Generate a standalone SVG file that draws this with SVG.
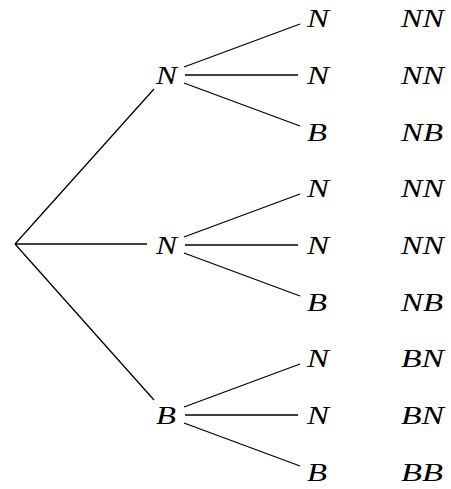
<svg xmlns="http://www.w3.org/2000/svg" width="451" height="489" viewBox="0 0 451 489">
<style>
.t{font-family:"Liberation Serif","Times New Roman",serif;font-style:italic;font-size:26px;fill:#000}
.e{stroke:#000;stroke-width:1.3;fill:none}
</style>
<rect width="451" height="489" fill="#fff"/>
<g id="connectors">
<line class="e" x1="15" y1="244" x2="154" y2="89"/>
<line class="e" x1="15" y1="244" x2="147" y2="244"/>
<line class="e" x1="15" y1="244" x2="154" y2="400"/>
<line class="e" x1="184" y1="67" x2="300" y2="24"/>
<line class="e" x1="185" y1="75" x2="298" y2="75"/>
<line class="e" x1="184" y1="83" x2="300" y2="126"/>
<line class="e" x1="184" y1="237" x2="300" y2="194"/>
<line class="e" x1="185" y1="245" x2="298" y2="245"/>
<line class="e" x1="184" y1="253" x2="300" y2="296"/>
<line class="e" x1="184" y1="407" x2="300" y2="364"/>
<line class="e" x1="185" y1="415" x2="298" y2="415"/>
<line class="e" x1="184" y1="423" x2="300" y2="466"/>
</g>
<g id="n1"><text class="t" x="156" y="84" textLength="21" lengthAdjust="spacingAndGlyphs">N</text></g>
<g id="n2"><text class="t" x="156" y="254" textLength="21" lengthAdjust="spacingAndGlyphs">N</text></g>
<g id="n3"><text class="t" x="156" y="424" textLength="20" lengthAdjust="spacingAndGlyphs">B</text></g>
<g id="l1"><text class="t" x="307" y="27" textLength="22" lengthAdjust="spacingAndGlyphs">N</text><text class="t" x="401" y="27" textLength="43" lengthAdjust="spacingAndGlyphs">NN</text></g>
<g id="l2"><text class="t" x="307" y="84" textLength="22" lengthAdjust="spacingAndGlyphs">N</text><text class="t" x="401" y="84" textLength="43" lengthAdjust="spacingAndGlyphs">NN</text></g>
<g id="l3"><text class="t" x="307" y="141" textLength="20" lengthAdjust="spacingAndGlyphs">B</text><text class="t" x="401" y="141" textLength="42" lengthAdjust="spacingAndGlyphs">NB</text></g>
<g id="l4"><text class="t" x="307" y="197" textLength="22" lengthAdjust="spacingAndGlyphs">N</text><text class="t" x="401" y="197" textLength="43" lengthAdjust="spacingAndGlyphs">NN</text></g>
<g id="l5"><text class="t" x="307" y="254" textLength="22" lengthAdjust="spacingAndGlyphs">N</text><text class="t" x="401" y="254" textLength="43" lengthAdjust="spacingAndGlyphs">NN</text></g>
<g id="l6"><text class="t" x="307" y="311" textLength="20" lengthAdjust="spacingAndGlyphs">B</text><text class="t" x="401" y="311" textLength="42" lengthAdjust="spacingAndGlyphs">NB</text></g>
<g id="l7"><text class="t" x="307" y="367" textLength="22" lengthAdjust="spacingAndGlyphs">N</text><text class="t" x="401" y="367" textLength="43" lengthAdjust="spacingAndGlyphs">BN</text></g>
<g id="l8"><text class="t" x="307" y="424" textLength="22" lengthAdjust="spacingAndGlyphs">N</text><text class="t" x="401" y="424" textLength="43" lengthAdjust="spacingAndGlyphs">BN</text></g>
<g id="l9"><text class="t" x="307" y="481" textLength="20" lengthAdjust="spacingAndGlyphs">B</text><text class="t" x="401" y="481" textLength="42" lengthAdjust="spacingAndGlyphs">BB</text></g>
</svg>
